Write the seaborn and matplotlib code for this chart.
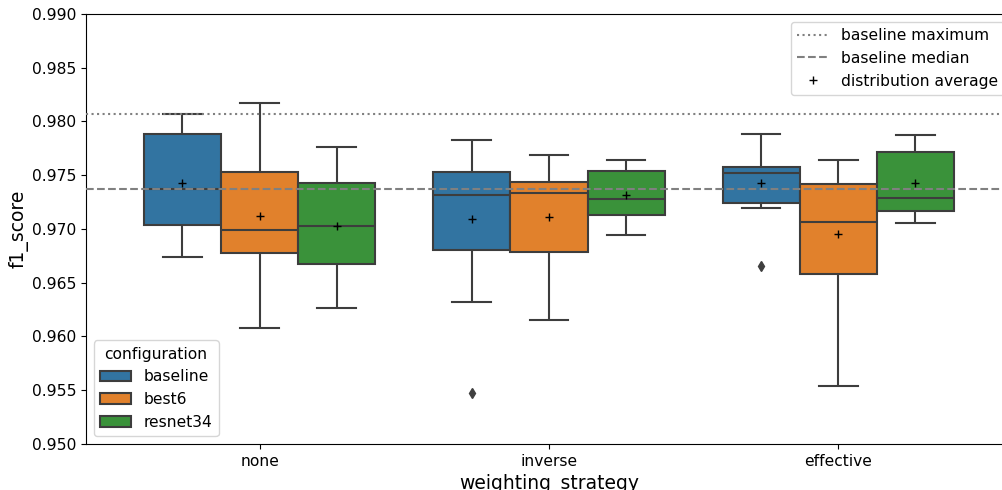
import matplotlib
matplotlib.use("Agg")
import matplotlib.pyplot as plt
from matplotlib.lines import Line2D
import numpy as np
import pandas as pd
import seaborn as sns

# F1 scores per run, grouped by weighting strategy and model configuration
strategies = ["none", "inverse", "effective"]
configurations = ["baseline", "best6", "resnet34"]

baseline_none = [0.96742, 0.96910, 0.97040, 0.97210, 0.97374, 0.97620, 0.97882, 0.97992, 0.98073]
best6_none = [0.96081, 0.96520, 0.96776, 0.96880, 0.96991, 0.97250, 0.97526, 0.97899, 0.98175]
resnet34_none = [0.96268, 0.96450, 0.96670, 0.96850, 0.97031, 0.97200, 0.97427, 0.97566, 0.97763]

baseline_inverse = [0.95470, 0.96318, 0.96804, 0.97285, 0.97315, 0.97480, 0.97533, 0.97800, 0.97832]
best6_inverse = [0.96150, 0.96500, 0.96785, 0.97100, 0.97333, 0.97380, 0.97433, 0.97615, 0.97685]
resnet34_inverse = [0.96941, 0.97060, 0.97131, 0.97220, 0.97283, 0.97450, 0.97539, 0.97593, 0.97645]

baseline_effective = [0.96657, 0.97193, 0.97240, 0.97461, 0.97517, 0.97550, 0.97573, 0.97800, 0.97879]
best6_effective = [0.95536, 0.96500, 0.96579, 0.97000, 0.97065, 0.97350, 0.97414, 0.97464, 0.97642]
resnet34_effective = [0.97056, 0.97120, 0.97168, 0.97250, 0.97290, 0.97600, 0.97717, 0.97770, 0.97872]

runs = {
    ("none", "baseline"): baseline_none,
    ("none", "best6"): best6_none,
    ("none", "resnet34"): resnet34_none,
    ("inverse", "baseline"): baseline_inverse,
    ("inverse", "best6"): best6_inverse,
    ("inverse", "resnet34"): resnet34_inverse,
    ("effective", "baseline"): baseline_effective,
    ("effective", "best6"): best6_effective,
    ("effective", "resnet34"): resnet34_effective,
}

rows = []
for (strategy, config), scores in runs.items():
    for s in scores:
        rows.append({"weighting_strategy": strategy, "configuration": config, "f1_score": s})
df = pd.DataFrame(rows)

# Reference lines from the unweighted baseline model
baseline_max = float(np.max(baseline_none))
baseline_median = float(np.median(baseline_none))

fig = plt.figure(figsize=(10.03, 4.90), dpi=100)
ax = fig.add_axes([0.0857, 0.0939, 0.9232, 0.8776])

sns.boxplot(
    data=df, x="weighting_strategy", y="f1_score", hue="configuration",
    order=strategies, hue_order=configurations, ax=ax,
    showmeans=True,
    meanprops={"marker": "+", "markeredgecolor": "black", "markersize": 6,
               "markeredgewidth": 1.0, "zorder": 6},
    flierprops={"marker": "d", "markerfacecolor": "#3f3f3f",
                "markeredgecolor": "#3f3f3f", "markersize": 5},
    linewidth=1.5, width=0.8,
)

ax.axhline(baseline_max, ls=":", color="gray", lw=1.5, zorder=5)
ax.axhline(baseline_median, ls="--", color="gray", lw=1.5, zorder=5)

ax.set_ylim(0.950, 0.990)
ax.set_yticks(np.arange(0.950, 0.9901, 0.005))
ax.yaxis.set_major_formatter(matplotlib.ticker.FormatStrFormatter("%.3f"))
ax.set_xlim(-0.6, 2.6)
ax.tick_params(labelsize=11.2)
ax.set_xlabel("weighting_strategy", fontsize=13.5)
ax.set_ylabel("f1_score", fontsize=13.5, labelpad=2)

hue_legend = ax.legend(title="configuration", loc="lower left", fontsize=11.2,
                       title_fontsize=11.2)
ax.add_artist(hue_legend)

ref_handles = [
    Line2D([], [], ls=":", color="gray", lw=1.5),
    Line2D([], [], ls="--", color="gray", lw=1.5),
    Line2D([], [], ls="", marker="+", color="black", markersize=6, markeredgewidth=1.0),
]
ref_labels = ["baseline maximum", "baseline median", "distribution average"]
ax.legend(ref_handles, ref_labels, loc="upper right", fontsize=11.2)

fig.savefig("out.png", dpi=100)
